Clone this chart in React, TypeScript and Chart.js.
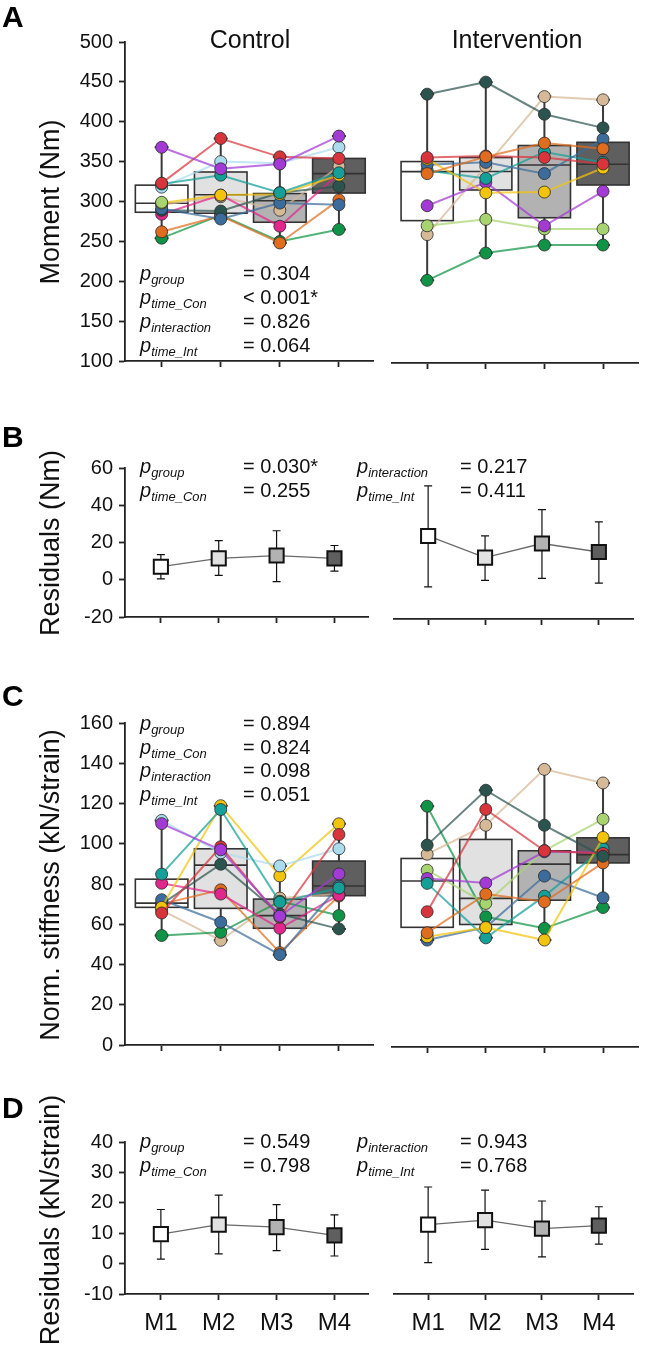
import React, { useEffect, useRef } from 'react';
import { Chart, registerables } from 'chart.js';

Chart.register(...registerables);

const FONT = '"Liberation Sans", Arial, Helvetica, sans-serif';

// ---------- categories / styling keys ----------
const timeLabels = ['M1', 'M2', 'M3', 'M4'];
const timeFills = ['#ffffff', '#e1e1e1', '#b2b2b2', '#5f5f5f'];

const purple = '#a43ad6';
const red = '#d8343c';
const teal = '#14a099';
const lightBlue = '#aadcee';
const lightGreen = '#a8d46f';
const yellow = '#f2c40c';
const steelBlue = '#3c6c9c';
const darkSlate = '#2c544f';
const magenta = '#e0278b';
const orange = '#e06c20';
const green = '#0f9447';
const tan = '#d6b996';

const controlColors = [purple, red, teal, lightBlue, lightGreen, yellow, steelBlue, darkSlate, magenta, orange, green, tan];
const interventionColors = [darkSlate, orange, red, yellow, steelBlue, teal, purple, lightGreen, tan, green];

// ---------- Panel A: moment (Nm), one row per subject, M1..M4 ----------
const momentControl: (number | null)[][] = [
  [368, 341, 347, 382],
  [323, 379, 356, 354],
  [322, 333, 311, 336],
  [318, 350, 348, 368],
  [299, null, null, null],
  [298, 308, 309, 333],
  [291, 278, 298, 296],
  [289, 288, 311, 319],
  [284, 308, 269, 335],
  [262, 282, 248, 302],
  [254, 283, 250, 265],
  [296, 306, 289, 344],
];
const momentIntervention: (number | null)[][] = [
  [435, 450, 410, 393],
  [336, 357, 374, 367],
  [356, 358, 356, 348],
  [354, 312, 313, 343],
  [347, 350, 336, 379],
  [340, 330, 363, 350],
  [296, 325, 271, 314],
  [271, 279, 267, 267],
  [260, 345, 432, 428],
  [203, 237, 247, 247],
];
const momentConQ1 = [286.5, 285.3, 274, 310.6];
const momentConMed = [297.8, 308.5, 301, 335];
const momentConQ3 = [320.5, 337, 310, 354];
const momentIntQ1 = [277.4, 315.6, 281, 321.8];
const momentIntMed = [338.5, 338.6, 346.7, 347.6];
const momentIntQ3 = [351, 356, 371, 375];

// ---------- Panel B: residuals (Nm) ----------
const residNmConMean = [7, 11.5, 13, 11.5];
const residNmConLo = [0.5, 2.3, -1, 4.6];
const residNmConHi = [13.5, 21, 26.3, 18.4];
const residNmIntMean = [24, 12.5, 20, 15.5];
const residNmIntLo = [-3, 0.5, 1.5, -1];
const residNmIntHi = [50.5, 24, 38, 31.5];

// ---------- Panel C: normalised stiffness (kN/strain) ----------
const stiffControl: (number | null)[][] = [
  [110, 97, 64, 85],
  [65.6, 98.5, 63.5, 104.6],
  [84.9, 117, 71, 78],
  [111.6, 95.5, 89, 97.5],
  [null, null, null, null],
  [68.4, 118.9, 84, 109.9],
  [72.2, 61, 44.9, 79],
  [70, 89.8, 65.1, 57.7],
  [80.4, 75, 58, 74.5],
  [70, 77.1, 45.9, 74],
  [54.4, 56, 71.4, 64.3],
  [67, 52, 73, 75],
];
const stiffIntervention: (number | null)[][] = [
  [99.7, 126.8, 109.5, 94.2],
  [56.4, 75.5, 71.7, 90.9],
  [66.8, 117.3, 96.9, 95.6],
  [54.4, 59, 52.8, 103.5],
  [52.8, 59.1, 84.4, 73.7],
  [80.8, 53.9, 74.5, 98],
  [83.2, 81, 96.4, 96],
  [87.3, 70.9, 97, 112.5],
  [95.2, 109.5, 137.1, 130.4],
  [118.9, 64.3, 58.6, 68.9],
];
const stiffConQ1 = [68.4, 67.9, 58, 74.2];
const stiffConMed = [70.5, 89.4, 64.3, 79];
const stiffConQ3 = [82.4, 97.5, 72.5, 91.4];
const stiffIntQ1 = [59.1, 60.5, 72.5, 90.9];
const stiffIntMed = [82, 73.4, 90.3, 95];
const stiffIntQ3 = [93.1, 102.5, 96.9, 103.3];

// ---------- Panel D: residuals (kN/strain) ----------
const residKnConMean = [9.7, 12.8, 12, 9.3];
const residKnConLo = [1.5, 3.2, 4.3, 2.5];
const residKnConHi = [17.8, 22.5, 19.4, 16];
const residKnIntMean = [12.8, 14.3, 11.5, 12.5];
const residKnIntLo = [0.3, 4.7, 2.2, 6.4];
const residKnIntHi = [25.2, 24.2, 20.6, 18.7];

// ---------- statistics text ----------
const pSubsA = ['group', 'time_Con', 'interaction', 'time_Int'];
const pValsA = ['= 0.304', '< 0.001*', '= 0.826', '= 0.064'];
const pSubsB1 = ['group', 'time_Con'];
const pValsB1 = ['= 0.030*', '= 0.255'];
const pSubsB2 = ['interaction', 'time_Int'];
const pValsB2 = ['= 0.217', '= 0.411'];
const pSubsC = ['group', 'time_Con', 'interaction', 'time_Int'];
const pValsC = ['= 0.894', '= 0.824', '= 0.098', '= 0.051'];
const pSubsD1 = ['group', 'time_Con'];
const pValsD1 = ['= 0.549', '= 0.798'];
const pSubsD2 = ['interaction', 'time_Int'];
const pValsD2 = ['= 0.943', '= 0.768'];

// ---------- geometry ----------
const CON_LEFT = 125;
const CON_RIGHT = 375;
const INT_LEFT = 392;
const INT_RIGHT = 642;

function withAlpha(hex: string, a: number) {
  const n = parseInt(hex.slice(1), 16);
  return `rgba(${(n >> 16) & 255},${(n >> 8) & 255},${n & 255},${a})`;
}

function subjectDatasets(values: (number | null)[][], colors: string[]) {
  return values.map((row, k) => ({
    type: 'line',
    data: row.map((v, i) => ({ x: i, y: v })),
    borderColor: withAlpha(colors[k], 0.72),
    borderWidth: 2,
    pointRadius: 6,
    pointBackgroundColor: colors[k],
    pointBorderColor: '#2a2a2a',
    pointBorderWidth: 0.8,
    clip: false,
    spanGaps: false,
    tension: 0,
  }));
}

function residDatasets(mean: number[]) {
  return [
    {
      type: 'line',
      data: mean.map((v, i) => ({ x: i, y: v })),
      borderColor: '#6a6a6a',
      borderWidth: 1.3,
      pointStyle: 'rect',
      pointRadius: 10,
      pointBackgroundColor: timeFills,
      pointBorderColor: '#111',
      pointBorderWidth: 2,
      clip: false,
      tension: 0,
    },
  ];
}

function boxPlugin(values: (number | null)[][], q1: number[], med: number[], q3: number[]) {
  return {
    id: 'boxes',
    beforeDatasetsDraw(chart: any) {
      const { ctx } = chart;
      const xs = chart.scales.x;
      const ys = chart.scales.y;
      const step = xs.getPixelForValue(1) - xs.getPixelForValue(0);
      const bw = step * 0.89;
      const capW = 14;
      ctx.save();
      for (let i = 0; i < 4; i++) {
        const col = values.map((r) => r[i]).filter((v) => v !== null) as number[];
        const lo = Math.min(...col);
        const hi = Math.max(...col);
        const cx = xs.getPixelForValue(i);
        const yLo = ys.getPixelForValue(lo);
        const yHi = ys.getPixelForValue(hi);
        ctx.strokeStyle = '#3a3a3a';
        ctx.lineWidth = 2;
        ctx.beginPath();
        ctx.moveTo(cx, yLo);
        ctx.lineTo(cx, yHi);
        ctx.moveTo(cx - capW / 2, yLo);
        ctx.lineTo(cx + capW / 2, yLo);
        ctx.moveTo(cx - capW / 2, yHi);
        ctx.lineTo(cx + capW / 2, yHi);
        ctx.stroke();
        const yT = ys.getPixelForValue(q3[i]);
        const yB = ys.getPixelForValue(q1[i]);
        ctx.fillStyle = timeFills[i];
        ctx.fillRect(cx - bw / 2, yT, bw, yB - yT);
        ctx.strokeStyle = '#333';
        ctx.lineWidth = 1.6;
        ctx.strokeRect(cx - bw / 2, yT, bw, yB - yT);
        const yM = ys.getPixelForValue(med[i]);
        ctx.beginPath();
        ctx.moveTo(cx - bw / 2, yM);
        ctx.lineTo(cx + bw / 2, yM);
        ctx.stroke();
      }
      ctx.restore();
    },
  };
}

function errPlugin(lo: number[], hi: number[]) {
  return {
    id: 'errbars',
    beforeDatasetsDraw(chart: any) {
      const { ctx } = chart;
      const xs = chart.scales.x;
      const ys = chart.scales.y;
      ctx.save();
      ctx.strokeStyle = '#111';
      ctx.lineWidth = 1.2;
      for (let i = 0; i < lo.length; i++) {
        const cx = xs.getPixelForValue(i);
        const a = ys.getPixelForValue(lo[i]);
        const b = ys.getPixelForValue(hi[i]);
        ctx.beginPath();
        ctx.moveTo(cx, a);
        ctx.lineTo(cx, b);
        ctx.moveTo(cx - 4, a);
        ctx.lineTo(cx + 4, a);
        ctx.moveTo(cx - 4, b);
        ctx.lineTo(cx + 4, b);
        ctx.stroke();
      }
      ctx.restore();
    },
  };
}

type Spec = {
  key: string;
  group: 'con' | 'int';
  plotTop: number;
  plotBottom: number;
  yMin: number;
  yMax: number;
  yStep: number;
  xLabels: boolean;
  datasets: any[];
  plugin: any;
};

const PAD_TOP = 25;

function geometry(s: Spec) {
  const xH = s.xLabels ? 48 : 16;
  const isCon = s.group === 'con';
  const left = isCon ? 0 : INT_LEFT - 10;
  const width = isCon ? CON_RIGHT + 5 : 645 - left;
  const padLeft = isCon ? 0 : 10;
  const padRight = isCon ? 5 : 645 - INT_RIGHT;
  const top = s.plotTop - PAD_TOP;
  const height = PAD_TOP + (s.plotBottom - s.plotTop) + xH;
  const xMin = isCon ? -0.62 : -0.6;
  const xMax = isCon ? 3.58 : 3.6;
  return { xH, left, width, padLeft, padRight, top, height, xMin, xMax };
}

function buildConfig(s: Spec): any {
  const g = geometry(s);
  const showY = s.group === 'con';
  return {
    type: 'line',
    data: { datasets: s.datasets },
    plugins: [s.plugin],
    options: {
      animation: false,
      responsive: false,
      maintainAspectRatio: false,
      events: [],
      layout: { padding: { left: g.padLeft, right: g.padRight, top: PAD_TOP, bottom: 0 } },
      plugins: { legend: { display: false }, tooltip: { enabled: false }, title: { display: false } },
      scales: {
        x: {
          type: 'linear',
          min: g.xMin,
          max: g.xMax,
          afterBuildTicks: (axis: any) => {
            axis.ticks = [0, 1, 2, 3].map((v) => ({ value: v }));
          },
          afterFit: (axis: any) => {
            axis.height = g.xH;
          },
          grid: {
            display: true,
            drawOnChartArea: false,
            drawTicks: true,
            tickLength: 6,
            tickWidth: 1.8,
            tickColor: '#222',
          },
          border: { display: true, color: '#222', width: 1.8 },
          ticks: {
            display: s.xLabels,
            autoSkip: false,
            maxRotation: 0,
            padding: 9,
            color: '#111',
            font: { family: FONT, size: 24 },
            callback: (v: number) => timeLabels[v] ?? '',
          },
        },
        y: {
          type: 'linear',
          display: showY,
          min: s.yMin,
          max: s.yMax,
          afterFit: (axis: any) => {
            axis.width = showY ? CON_LEFT : 0;
          },
          grid: {
            display: true,
            drawOnChartArea: false,
            drawTicks: true,
            tickLength: 6,
            tickWidth: 1.8,
            tickColor: '#222',
          },
          border: { display: true, color: '#222', width: 1.8 },
          ticks: {
            stepSize: s.yStep,
            padding: 6,
            color: '#111',
            font: { family: FONT, size: 20 },
            callback: (v: number) => String(v),
          },
        },
      },
    },
  };
}

function PlotCanvas({ spec }: { spec: Spec }) {
  const ref = useRef<HTMLCanvasElement>(null);
  const g = geometry(spec);
  useEffect(() => {
    if (!ref.current) return;
    const chart = new Chart(ref.current, buildConfig(spec));
    return () => chart.destroy();
  }, []);
  return (
    <canvas
      ref={ref}
      width={g.width}
      height={g.height}
      style={{ position: 'absolute', left: g.left, top: g.top, width: g.width, height: g.height }}
    />
  );
}

const specs: Spec[] = [
  {
    key: 'aCon', group: 'con', plotTop: 42, plotBottom: 363, yMin: 100, yMax: 500, yStep: 50, xLabels: false,
    datasets: subjectDatasets(momentControl, controlColors),
    plugin: boxPlugin(momentControl, momentConQ1, momentConMed, momentConQ3),
  },
  {
    key: 'aInt', group: 'int', plotTop: 42, plotBottom: 363, yMin: 100, yMax: 500, yStep: 50, xLabels: false,
    datasets: subjectDatasets(momentIntervention, interventionColors),
    plugin: boxPlugin(momentIntervention, momentIntQ1, momentIntMed, momentIntQ3),
  },
  {
    key: 'bCon', group: 'con', plotTop: 468, plotBottom: 619, yMin: -20, yMax: 60, yStep: 20, xLabels: false,
    datasets: residDatasets(residNmConMean),
    plugin: errPlugin(residNmConLo, residNmConHi),
  },
  {
    key: 'bInt', group: 'int', plotTop: 468, plotBottom: 619, yMin: -20, yMax: 60, yStep: 20, xLabels: false,
    datasets: residDatasets(residNmIntMean),
    plugin: errPlugin(residNmIntLo, residNmIntHi),
  },
  {
    key: 'cCon', group: 'con', plotTop: 723, plotBottom: 1047, yMin: 0, yMax: 160, yStep: 20, xLabels: false,
    datasets: subjectDatasets(stiffControl, controlColors),
    plugin: boxPlugin(stiffControl, stiffConQ1, stiffConMed, stiffConQ3),
  },
  {
    key: 'cInt', group: 'int', plotTop: 723, plotBottom: 1047, yMin: 0, yMax: 160, yStep: 20, xLabels: false,
    datasets: subjectDatasets(stiffIntervention, interventionColors),
    plugin: boxPlugin(stiffIntervention, stiffIntQ1, stiffIntMed, stiffIntQ3),
  },
  {
    key: 'dCon', group: 'con', plotTop: 1142, plotBottom: 1294, yMin: -10, yMax: 40, yStep: 10, xLabels: true,
    datasets: residDatasets(residKnConMean),
    plugin: errPlugin(residKnConLo, residKnConHi),
  },
  {
    key: 'dInt', group: 'int', plotTop: 1142, plotBottom: 1294, yMin: -10, yMax: 40, yStep: 10, xLabels: true,
    datasets: residDatasets(residKnIntMean),
    plugin: errPlugin(residKnIntLo, residKnIntHi),
  },
];

const textBase: React.CSSProperties = {
  position: 'absolute',
  fontFamily: FONT,
  color: '#111',
  whiteSpace: 'nowrap',
};

function PBlock({ subs, vals, xl, xv, y0, dy }: { subs: string[]; vals: string[]; xl: number; xv: number; y0: number; dy: number }) {
  return (
    <>
      {subs.map((s, i) => (
        <React.Fragment key={s}>
          <div style={{ ...textBase, left: xl, top: y0 + i * dy - 10, fontSize: 20, lineHeight: '20px' }}>
            <span style={{ fontStyle: 'italic' }}>p</span>
            <span style={{ fontStyle: 'italic', fontSize: 13, position: 'relative', top: 4 }}>{s}</span>
          </div>
          <div style={{ ...textBase, left: xv, top: y0 + i * dy - 10, fontSize: 20, lineHeight: '20px' }}>{vals[i]}</div>
        </React.Fragment>
      ))}
    </>
  );
}

function YTitle({ text, cx, cy }: { text: string; cx: number; cy: number }) {
  return (
    <div
      style={{
        ...textBase,
        left: cx,
        top: cy,
        fontSize: 27,
        lineHeight: '27px',
        transform: 'translate(-50%, -50%) rotate(-90deg)',
      }}
    >
      {text}
    </div>
  );
}

function Letter({ t, top }: { t: string; top: number }) {
  return (
    <div style={{ ...textBase, left: 2, top, fontSize: 30, lineHeight: '30px', fontWeight: 'bold', color: '#000' }}>{t}</div>
  );
}

export default function App() {
  return (
    <div style={{ position: 'absolute', left: 0, top: 0, width: 645, height: 1346, background: '#fff', overflow: 'hidden' }}>
      {specs.map((s) => (
        <PlotCanvas key={s.key} spec={s} />
      ))}
      <div style={{ ...textBase, left: CON_LEFT, width: CON_RIGHT - CON_LEFT, top: 27, fontSize: 25, lineHeight: '25px', textAlign: 'center' }}>Control</div>
      <div style={{ ...textBase, left: INT_LEFT, width: INT_RIGHT - INT_LEFT, top: 27, fontSize: 25, lineHeight: '25px', textAlign: 'center' }}>Intervention</div>

      <YTitle text="Moment (Nm)" cx={50} cy={202} />
      <YTitle text="Residuals (Nm)" cx={50} cy={543} />
      <YTitle text="Norm. stiffness (kN/strain)" cx={50} cy={885} />
      <YTitle text="Residuals (kN/strain)" cx={50} cy={1220} />

      <Letter t="A" top={2} />
      <Letter t="B" top={422} />
      <Letter t="C" top={681} />
      <Letter t="D" top={1093} />

      <PBlock subs={pSubsA} vals={pValsA} xl={140} xv={243} y0={273} dy={24} />
      <PBlock subs={pSubsB1} vals={pValsB1} xl={140} xv={243} y0={466} dy={23.5} />
      <PBlock subs={pSubsB2} vals={pValsB2} xl={357} xv={460} y0={466} dy={23.5} />
      <PBlock subs={pSubsC} vals={pValsC} xl={140} xv={243} y0={723} dy={23.5} />
      <PBlock subs={pSubsD1} vals={pValsD1} xl={140} xv={243} y0={1141} dy={23.5} />
      <PBlock subs={pSubsD2} vals={pValsD2} xl={357} xv={460} y0={1141} dy={23.5} />
    </div>
  );
}
